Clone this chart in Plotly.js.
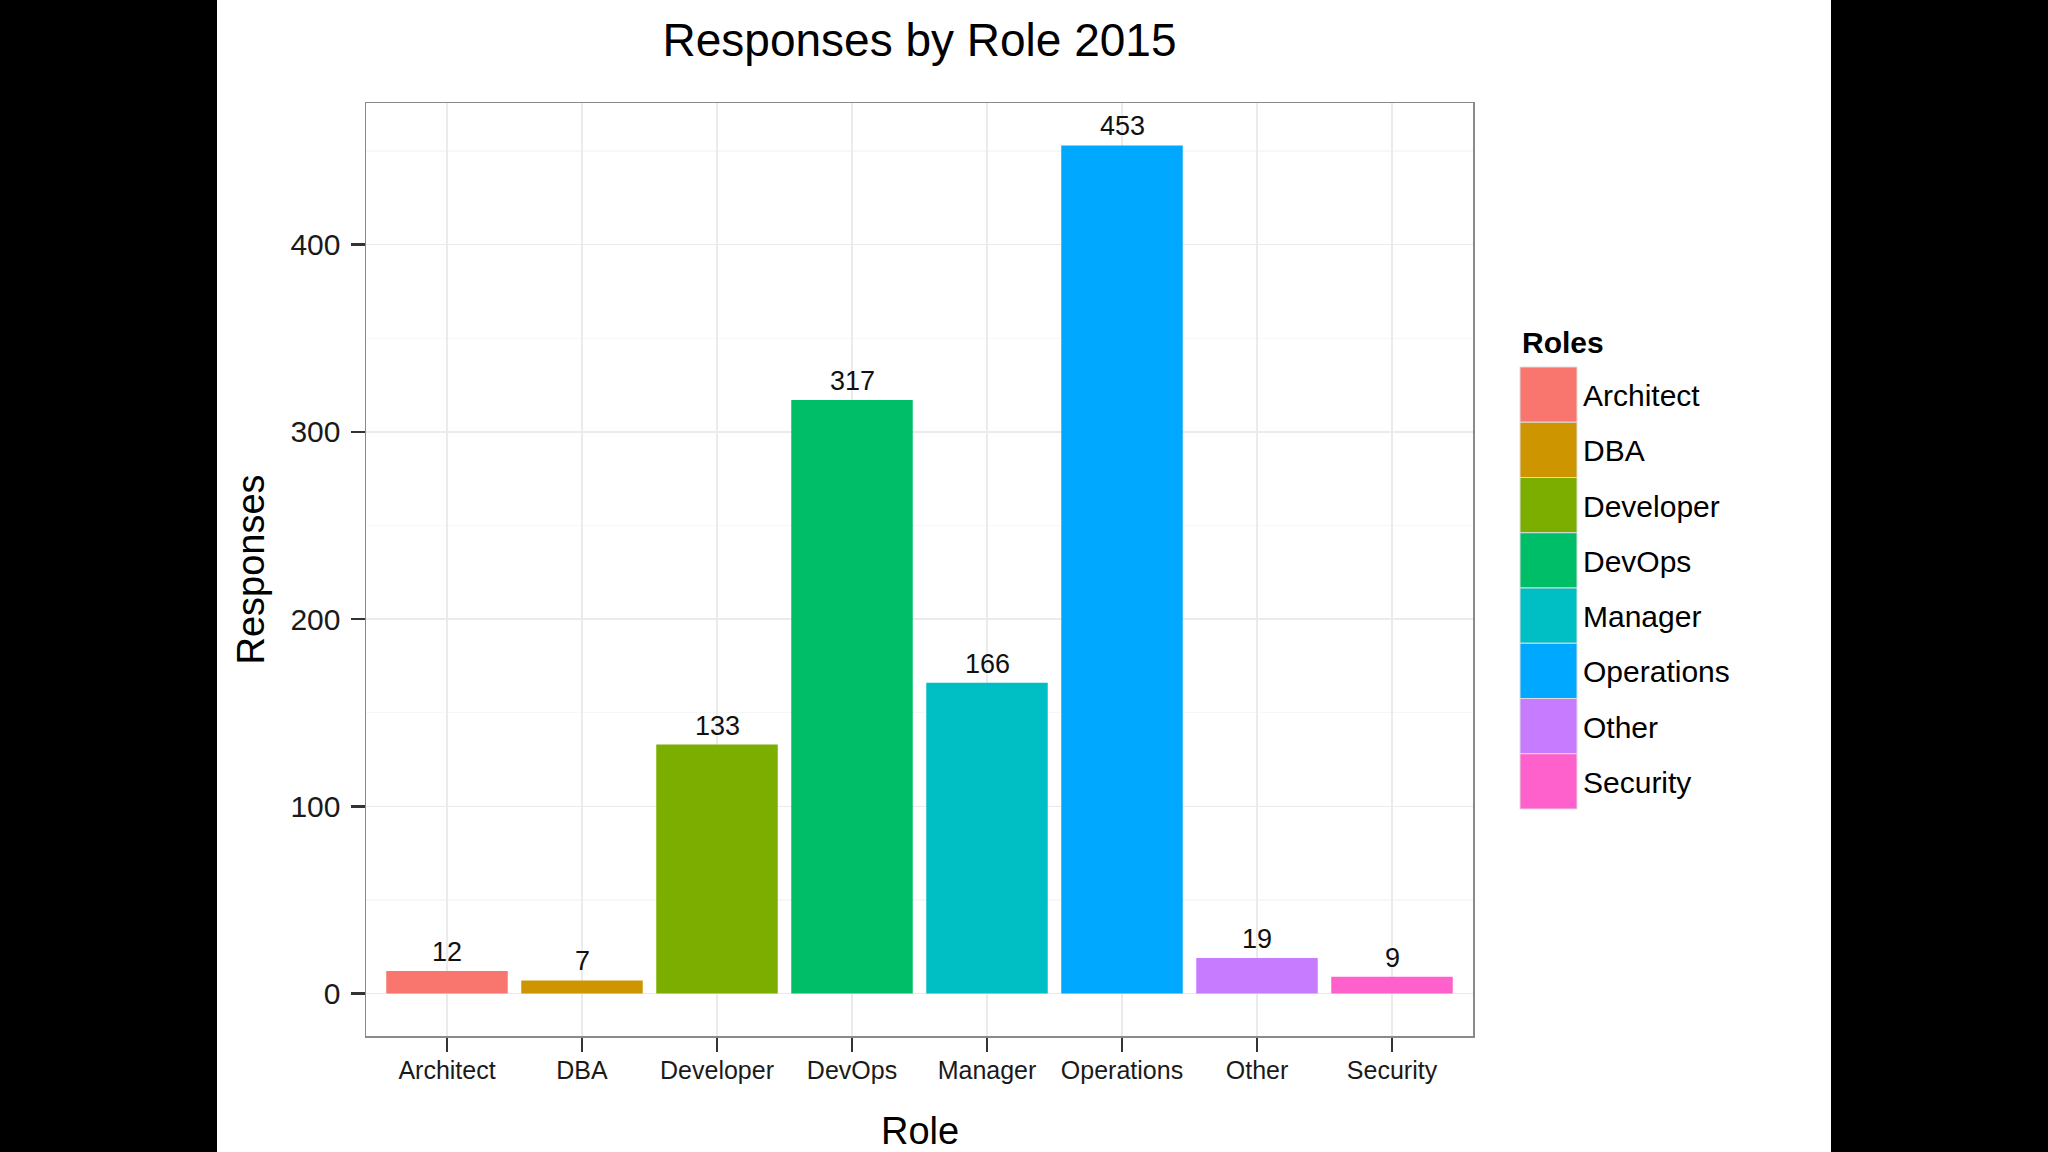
<!DOCTYPE html>
<html>
<head>
<meta charset="utf-8">
<script src="https://cdn.plot.ly/plotly-3.0.1.min.js"></script>
<style>
  html, body { margin: 0; padding: 0; background: #000; width: 2048px; height: 1152px; overflow: hidden; }
  #chart { position: absolute; left: 217px; top: 0; width: 1614px; height: 1152px; background: #fff; }
</style>
</head>
<body>
<div id="chart"></div>
<script>
// ---- data ----
const roles = ['Architect', 'DBA', 'Developer', 'DevOps', 'Manager', 'Operations', 'Other', 'Security'];
const responses = [12, 7, 133, 317, 166, 453, 19, 9];
const roleColors = ['#F8766D', '#CD9600', '#7CAE00', '#00BE67', '#00BFC4', '#00A9FF', '#C77CFF', '#FF61CC'];
const yTickVals = [0, 100, 200, 300, 400];
const chartTitle = 'Responses by Role 2015';
const xTitle = 'Role';
const yTitle = 'Responses';
const legendTitle = 'Roles';

// ---- layout geometry ----
const W = 1614, H = 1152;
const M = { l: 149, r: 358, t: 103, b: 116 };
const plotW = W - M.l - M.r, plotH = H - M.t - M.b;
const pxX = px => (px - M.l) / plotW;          // div px -> paper x
const pxY = py => (H - M.b - py) / plotH;       // div px -> paper y
const FONT = 'Liberation Sans, Arial, Helvetica, sans-serif';

const traces = roles.map((r, i) => ({
  type: 'bar',
  x: [r],
  y: [responses[i]],
  name: r,
  width: 0.9,
  marker: { color: roleColors[i], line: { width: 0 } },
  showlegend: false,
  hovertemplate: r + ': %{y}<extra></extra>'
}));

const annotations = roles.map((r, i) => ({
  x: r, y: responses[i], xref: 'x', yref: 'y',
  text: String(responses[i]),
  showarrow: false, yanchor: 'bottom', yshift: 2,
  font: { family: FONT, size: 27, color: '#111' }
}));

// legend (custom, large swatches like ggplot)
const legX0 = 1303, legX1 = 1360, legTop = 367, legStep = 55.25;
const shapes = [];
roles.forEach((r, i) => {
  const top = legTop + i * legStep;
  shapes.push({
    type: 'rect', xref: 'paper', yref: 'paper',
    x0: pxX(legX0), x1: pxX(legX1), y0: pxY(top + legStep), y1: pxY(top),
    fillcolor: roleColors[i], line: { color: '#dcdcdc', width: 1 }, layer: 'above'
  });
  annotations.push({
    xref: 'paper', yref: 'paper', x: pxX(1364), y: pxY(top + legStep / 2 + 1),
    xanchor: 'left', yanchor: 'middle', showarrow: false,
    text: r, font: { family: FONT, size: 30, color: '#000' }
  });
});
annotations.push({
  xref: 'paper', yref: 'paper', x: pxX(1303), y: pxY(342),
  xanchor: 'left', yanchor: 'middle', showarrow: false,
  text: '<b>' + legendTitle + '</b>', font: { family: FONT, size: 30, color: '#000' }
});
// x axis title (placed explicitly, kept fully inside the page)
annotations.push({
  xref: 'paper', yref: 'paper', x: 0.5, y: pxY(1131),
  xanchor: 'center', yanchor: 'middle', showarrow: false,
  text: xTitle, font: { family: FONT, size: 38, color: '#000' }
});

const layout = {
  width: W, height: H,
  margin: M,
  paper_bgcolor: '#ffffff',
  plot_bgcolor: '#ffffff',
  font: { family: FONT, color: '#000' },
  barmode: 'overlay',
  showlegend: false,
  title: {
    text: chartTitle,
    x: 0.5, xref: 'paper', xanchor: 'center',
    y: 1 - 40 / H, yref: 'container', yanchor: 'middle',
    font: { family: FONT, size: 46, color: '#000' }
  },
  xaxis: {
    type: 'category',
    categoryorder: 'array', categoryarray: roles,
    range: [-0.6, 7.6],
    showgrid: true, gridcolor: '#ebebeb', gridwidth: 1.5,
    showline: true, mirror: true, linecolor: '#8a8a8a', linewidth: 1.5,
    ticks: 'outside', ticklen: 14, tickwidth: 2.5, tickcolor: '#333',
    ticklabelstandoff: -3,
    tickfont: { family: FONT, size: 25, color: '#1a1a1a' },
    zeroline: false,
    automargin: false, fixedrange: true
  },
  yaxis: {
    range: [-22.65, 475.65],
    tickmode: 'array', tickvals: yTickVals,
    showgrid: true, gridcolor: '#ebebeb', gridwidth: 1.5,
    minor: { dtick: 50, tick0: 0, showgrid: true, gridcolor: '#f7f7f7', gridwidth: 1.5, ticks: '' },
    showline: true, mirror: true, linecolor: '#8a8a8a', linewidth: 1.5,
    ticks: 'outside', ticklen: 14, tickwidth: 2.5, tickcolor: '#333',
    ticklabelstandoff: 4,
    tickfont: { family: FONT, size: 30, color: '#1a1a1a' },
    zeroline: false,
    title: { text: yTitle, font: { family: FONT, size: 38, color: '#000' }, standoff: 14 },
    automargin: false, fixedrange: true
  },
  shapes: shapes,
  annotations: annotations
};

Plotly.newPlot('chart', traces, layout, { displayModeBar: false, staticPlot: true });
</script>
</body>
</html>
